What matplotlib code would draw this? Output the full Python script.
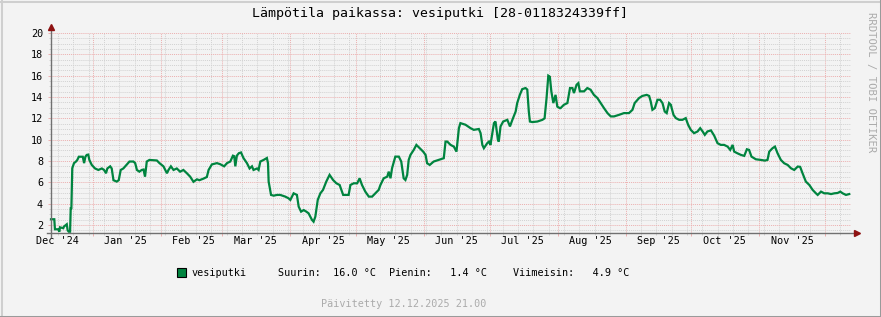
import matplotlib
matplotlib.use('Agg')
import matplotlib.pyplot as plt
import matplotlib.dates as mdates
from matplotlib.ticker import MultipleLocator, NullFormatter
from matplotlib.patches import Rectangle
from matplotlib.lines import Line2D
from matplotlib.transforms import blended_transform_factory
from datetime import datetime, timedelta

# ---------------- data ----------------
start = datetime(2024, 12, 12, 21, 0)
end = datetime(2025, 12, 12, 21, 0)

# days since start
day = [0, 1.5, 1.8, 3.3, 3.8, 4.1, 5.6, 5.9, 7.2, 7.6, 8.1, 8.7, 9.0, 9.3, 9.7, 10.5, 11.4, 12.0,
       12.7, 14.5, 15.1, 15.7, 16.3, 17.0, 17.5, 18.6, 20.1, 21.6, 23.2, 24.2, 25.1, 25.7, 27.0,
       27.7, 28.5, 30.0, 30.9, 31.8, 33.0, 34.3, 35.8, 37.6, 38.4, 39.2, 40.3, 41.4, 42.2, 42.9,
       43.7, 44.9, 48.3, 49.5, 51.3, 52.9, 53.6, 54.7, 55.9, 57.4, 58.9, 60.4, 62.0, 63.5, 65.0,
       66.6, 67.7, 69.6, 71.1, 71.9, 73.4, 75.7, 77.2, 79.0, 80.3, 81.8, 83.0, 83.6, 84.1, 84.8,
       85.7, 86.7, 87.8, 89.4, 90.6, 91.7, 92.4, 94.0, 94.7, 95.5, 97.0, 98.5, 99.0, 99.3, 100.4,
       101.6, 103.1, 104.6, 106.9, 108.4, 109.2, 110.7, 112.2, 113.0, 114.1, 115.3, 116.5, 117.5,
       119.1, 119.8, 120.6, 121.7, 122.9, 124.1, 125.6, 127.1, 128.7, 130.2, 131.7, 133.3, 135.8,
       136.6, 138.1, 139.7, 140.8, 141.9, 143.4, 145.0, 146.5, 148.0, 149.5, 150.3, 151.8, 153.4,
       154.1, 154.9, 155.6, 157.1, 158.7, 159.8, 160.9, 161.7, 162.5, 163.2, 164.0, 165.5, 166.7,
       168.2, 169.8, 170.9, 171.6, 172.8, 174.6, 176.9, 179.2, 180.0, 180.8, 182.3, 183.8, 185.0,
       186.1, 186.8, 189.1, 191.4, 192.9, 195.2, 196.0, 196.8, 197.5, 199.0, 199.8, 200.5, 202.1,
       202.8, 203.9, 204.3, 205.1, 206.3, 208.2, 209.4, 210.5, 212.0, 212.7, 213.9, 215.0, 216.5,
       217.3, 218.0, 218.5, 219.6, 221.9, 224.2, 225.2, 226.1, 226.9, 227.6, 228.3, 229.2, 230.2,
       231.0, 232.2, 232.5, 234.0, 235.6, 236.8, 237.9, 238.6, 239.8, 240.6, 241.3, 243.2, 244.7,
       246.2, 247.7, 249.3, 250.8, 252.3, 253.9, 255.4, 256.9, 259.2, 261.4, 263.7, 265.3, 266.3,
       268.3, 269.8, 271.8, 272.9, 273.6, 274.4, 275.5, 276.7, 277.9, 279.0, 280.0, 280.9, 282.0,
       282.8, 284.0, 285.1, 286.6, 288.1, 289.6, 290.7, 291.9, 293.4, 295.0, 296.2, 297.3, 298.3,
       299.5, 301.1, 302.6, 304.1, 305.6, 307.1, 308.7, 309.9, 311.0, 311.7, 313.2, 314.8, 316.3,
       317.5, 318.5, 319.6, 321.6, 323.9, 325.7, 326.9, 327.7, 329.2, 330.3, 331.5, 333.0, 334.5,
       336.1, 337.6, 339.1, 340.7, 341.8, 342.9, 344.4, 346.0, 347.5, 349.0, 349.8, 351.3, 352.8,
       354.4, 355.9, 357.4, 358.9, 360.1, 361.2, 362.7, 364.2]

temp = [2.54, 2.54, 1.6, 1.6, 1.37, 1.78, 1.7, 1.85, 2.07, 1.5, 1.37, 1.37, 3.57, 3.57, 7.32, 7.8,
        7.95, 8.1, 8.4, 8.4, 7.8, 8.4, 8.57, 8.6, 8.1, 7.63, 7.3, 7.16, 7.3, 7.16, 6.85, 7.3, 7.5,
        7.3, 6.2, 6.07, 6.2, 7.16, 7.3, 7.6, 7.95, 7.95, 7.8, 7.16, 7.0, 7.16, 7.2, 6.53, 7.95, 8.1,
        8.05, 7.8, 7.5, 6.85, 7.16, 7.5, 7.16, 7.3, 7.0, 7.16, 6.85, 6.53, 6.05, 6.28, 6.2, 6.35,
        6.5, 7.16, 7.68, 7.8, 7.7, 7.5, 7.8, 7.95, 8.5, 8.45, 7.5, 8.5, 8.73, 8.8, 8.28, 7.8, 7.3,
        7.5, 7.16, 7.3, 7.16, 7.95, 8.1, 8.28, 7.8, 6.07, 4.82, 4.75, 4.82, 4.82, 4.66, 4.5, 4.35,
        4.97, 4.82, 3.72, 3.25, 3.4, 3.25, 3.1, 2.47, 2.31, 2.78, 4.35, 4.97, 5.29, 6.07, 6.7,
        6.22, 5.91, 5.75, 4.82, 4.82, 5.75, 5.91, 5.91, 6.38, 5.75, 5.13, 4.66, 4.66, 4.97, 5.29,
        5.75, 6.38, 6.53, 7.0, 6.38, 7.32, 8.41, 8.41, 7.95, 6.38, 6.22, 6.69, 8.1, 8.57, 9.04,
        9.51, 9.2, 8.88, 8.57, 7.79, 7.63, 7.95, 8.1, 8.26, 9.82, 9.82, 9.51, 9.35, 8.88, 11.08,
        11.55, 11.4, 11.08, 10.92, 11.0, 10.61, 9.51, 9.2, 9.66, 9.82, 9.51, 11.55, 11.7, 9.98,
        9.82, 11.24, 11.7, 11.86, 11.24, 11.86, 12.64, 13.43, 14.2, 14.74, 14.84, 14.7, 12.64,
        11.7, 11.65, 11.7, 11.86, 12.0, 13.9, 16.0, 15.9, 14.5, 13.43, 14.2, 13.1, 12.95, 12.96,
        13.27, 13.43, 14.84, 14.84, 14.37, 15.15, 15.3, 14.53, 14.53, 14.84, 14.68, 14.2, 13.9,
        13.43, 12.96, 12.49, 12.18, 12.18, 12.33, 12.49, 12.49, 12.8, 13.43, 13.9, 14.1, 14.2,
        14.1, 13.6, 12.8, 12.96, 13.74, 13.74, 13.43, 12.64, 12.49, 13.43, 13.27, 12.33, 12.02,
        11.86, 11.86, 12.02, 11.39, 10.92, 10.61, 10.77, 11.08, 10.77, 10.45, 10.77, 10.87, 10.37,
        9.67, 9.51, 9.51, 9.35, 9.04, 9.51, 8.88, 8.72, 8.57, 8.48, 9.1, 9.04, 8.41, 8.16, 8.1,
        8.04, 8.1, 8.88, 9.2, 9.35, 8.72, 8.1, 7.79, 7.63, 7.32, 7.16, 7.48, 7.45, 6.85, 6.07,
        5.75, 5.29, 4.97, 4.82, 5.13, 4.97, 4.97, 4.9, 4.97, 5.0, 5.13, 4.97, 4.82, 4.9]

month_labels = ["Dec '24", "Jan '25", "Feb '25", "Mar '25", "Apr '25", "May '25", "Jun '25",
                "Jul '25", "Aug '25", "Sep '25", "Oct '25", "Nov '25"]
month_starts = [datetime(2024, 12, 1), datetime(2025, 1, 1), datetime(2025, 2, 1),
                datetime(2025, 3, 1), datetime(2025, 4, 1), datetime(2025, 5, 1),
                datetime(2025, 6, 1), datetime(2025, 7, 1), datetime(2025, 8, 1),
                datetime(2025, 9, 1), datetime(2025, 10, 1), datetime(2025, 11, 1)]
y_ticks = [2, 4, 6, 8, 10, 12, 14, 16, 18, 20]
y_min, y_max = 1.25, 20

title = "Lämpötila paikassa: vesiputki [28-0118324339ff]"
series_name = "vesiputki"
stat_max, stat_min, stat_last = 16.0, 1.4, 4.9
updated = "Päivitetty 12.12.2025 21.00"

# ---------------- style ----------------
W, H = 881, 317
BG = '#F3F3F3'
LINE = '#00843F'
MGRID = '#ECAFAF'
GRID = '#D2D2D2'
FONT = 'DejaVu Sans Mono'
plt.rcParams['font.family'] = [FONT, 'DejaVu Sans']

def fx(x):
    return x / W

def fy(y):
    return 1 - y / H

fig = plt.figure(figsize=(W / 100, H / 100), dpi=100, facecolor=BG)
ax = fig.add_axes([fx(51), fy(233), 800 / W, 200 / H])
ax.set_facecolor(BG)

dates = [start + timedelta(days=d) for d in day]
ax.plot(dates, temp, color=LINE, lw=1.6, solid_joinstyle='miter', zorder=5, clip_on=False)

ax.set_xlim(start, end)
ax.set_ylim(y_min, y_max)

for s in ax.spines.values():
    s.set_visible(False)

ax.xaxis.set_major_locator(mdates.MonthLocator())
ax.xaxis.set_minor_locator(mdates.WeekdayLocator(byweekday=mdates.MO))
ax.xaxis.set_major_formatter(NullFormatter())
ax.yaxis.set_major_locator(MultipleLocator(2))
ax.yaxis.set_minor_locator(MultipleLocator(0.5))
ax.set_yticks(y_ticks)
ax.set_yticklabels([str(v) for v in y_ticks], fontsize=7.3)

dash = (0, (1, 1))
ax.grid(which='minor', color=GRID, ls=dash, lw=0.7)
ax.grid(which='major', color=MGRID, ls=dash, lw=0.7)
ax.set_axisbelow(True)
ax.tick_params(which='major', length=2.5, width=0.7, color=MGRID, direction='out', pad=3.2)
ax.tick_params(which='minor', length=1.5, width=0.7, color=GRID, direction='out')

# month labels (centered mid-month like rrdtool)
trans = blended_transform_factory(ax.transData, ax.transAxes)
for m, lab in zip(month_starts, month_labels):
    c = m + timedelta(days=15)
    if start <= c <= end:
        ax.text(c, -8.5 / 200, lab, transform=trans, ha='center', va='center', fontsize=7.3)

# axes lines and arrows
ax.plot([-4 / 800, 1 + 4 / 800], [0, 0], transform=ax.transAxes, color='#707070', lw=1.0,
        clip_on=False, zorder=6)
ax.plot([0, 0], [-4 / 200, 1 + 4 / 200], transform=ax.transAxes, color='#707070', lw=1.0,
        clip_on=False, zorder=6)
ax.plot([1 + 6 / 800], [0], marker='>', ms=4, color='#8E1212', transform=ax.transAxes,
        clip_on=False, zorder=7)
ax.plot([0], [1 + 6 / 200], marker='^', ms=4, color='#8E1212', transform=ax.transAxes,
        clip_on=False, zorder=7)

# title
fig.text(0.5, fy(14), title, ha='center', va='center', fontsize=9.5)

# legend
fig.add_artist(Rectangle((fx(177), fy(277)), 9 / W, 9 / H, transform=fig.transFigure,
                         facecolor=LINE, edgecolor='black', lw=0.8))
ly = fy(273)
fig.text(fx(191), ly, series_name, ha='left', va='center', fontsize=7.3)
fig.text(fx(278), ly, f"Suurin: {stat_max:5.1f} °C", ha='left', va='center', fontsize=7.3)
fig.text(fx(389), ly, f"Pienin: {stat_min:5.1f} °C", ha='left', va='center', fontsize=7.3)
fig.text(fx(513), ly, f"Viimeisin: {stat_last:5.1f} °C", ha='left', va='center', fontsize=7.3)

fig.text(fx(403.5), fy(304), updated, ha='center', va='center', fontsize=7.3, color='#ABABAB')
fig.text(fx(871), fy(82.5), "RRDTOOL / TOBI OETIKER", rotation=270, ha='center', va='center',
         fontsize=7.6, color='#ABABAB')

# frame shading
for (x0, y0, x1, y1, c) in [(0, 0.5, W, 0.5, '#CFCFCF'), (0.5, 0, 0.5, H, '#CFCFCF'),
                            (0, 1.5, W, 1.5, '#CFCFCF'), (1.5, 0, 1.5, H, '#CFCFCF'),
                            (W - 0.5, 0, W - 0.5, H, '#9A9A9A'), (W - 1.5, 0, W - 1.5, H, '#9A9A9A'),
                            (0, H - 0.5, W, H - 0.5, '#9A9A9A'), (0, H - 1.5, W, H - 1.5, '#9A9A9A')]:
    fig.add_artist(Line2D([fx(x0), fx(x1)], [fy(y0), fy(y1)], color=c, lw=0.75,
                          transform=fig.transFigure))

fig.savefig('out.png', dpi=100, facecolor=BG)
